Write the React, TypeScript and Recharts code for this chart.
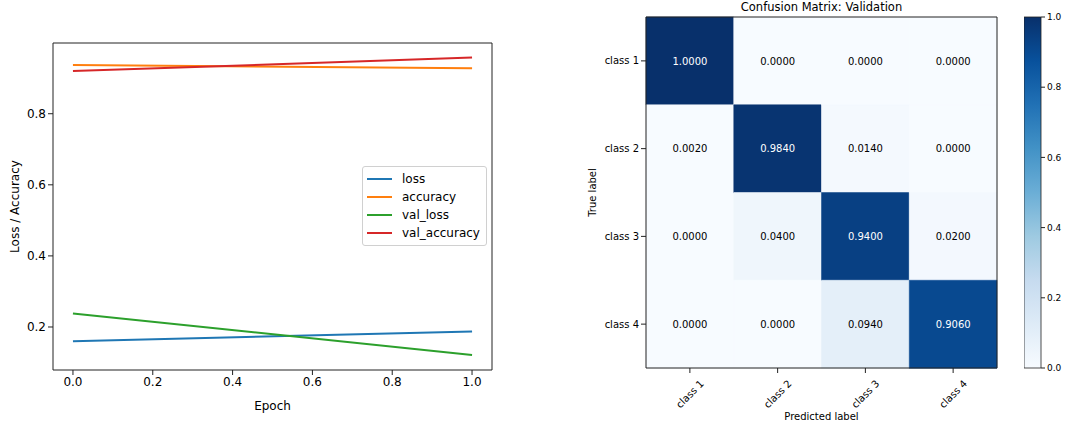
import { LineChart, Line, XAxis, YAxis, BarChart, Bar, Cell, LabelList } from "recharts";

const FONT = '"DejaVu Sans", sans-serif';

// training history
const epochs = [0, 1];
const loss = [0.16, 0.187];
const accuracy = [0.937, 0.928];
const valLoss = [0.238, 0.121];
const valAccuracy = [0.92, 0.958];
const epochTicks = [0, 0.2, 0.4, 0.6, 0.8, 1.0];
const metricTicks = [0.2, 0.4, 0.6, 0.8];

// confusion matrix (validation)
const classNames = ["class 1", "class 2", "class 3", "class 4"];
const confusion = [
  [1.0, 0.0, 0.0, 0.0],
  [0.002, 0.984, 0.014, 0.0],
  [0.0, 0.04, 0.94, 0.02],
  [0.0, 0.0, 0.094, 0.906],
];
const colorbarTicks = [0, 0.2, 0.4, 0.6, 0.8, 1.0];

const series = [
  { key: "loss", color: "#1f77b4" },
  { key: "accuracy", color: "#ff7f0e" },
  { key: "val_loss", color: "#2ca02c" },
  { key: "val_accuracy", color: "#d62728" },
];

const history = epochs.map((e, i) => ({
  epoch: e,
  loss: loss[i],
  accuracy: accuracy[i],
  val_loss: valLoss[i],
  val_accuracy: valAccuracy[i],
}));

const matrixRows = classNames.map((name, i) => {
  const row: any = { name };
  confusion[i].forEach((v, j) => {
    row[`w${j}`] = 1;
    row[`v${j}`] = v;
  });
  return row;
});

// matplotlib "Blues"
const BLUES = ["#f7fbff", "#deebf7", "#c6dbef", "#9ecae1", "#6baed6", "#4292c6", "#2171b5", "#08519c", "#08306b"];
const hex = (c: string) => [1, 3, 5].map((k) => parseInt(c.slice(k, k + 2), 16));
const blues = (t: number) => {
  const p = Math.max(0, Math.min(1, t)) * (BLUES.length - 1);
  const i = Math.min(Math.floor(p), BLUES.length - 2);
  const f = p - i;
  const a = hex(BLUES[i]);
  const b = hex(BLUES[i + 1]);
  const c = a.map((x, k) => Math.round(x + (b[k] - x) * f));
  return `rgb(${c[0]},${c[1]},${c[2]})`;
};

const HistoryLegend = () => (
  <div
    style={{
      position: "absolute",
      left: 362,
      top: 166,
      border: "1px solid #d0d0d0",
      borderRadius: 3,
      padding: "3px 6px 3px 4px",
      background: "#fff",
      fontFamily: FONT,
      fontSize: 12,
    }}
  >
    {series.map((s) => (
      <div key={s.key} style={{ display: "flex", alignItems: "center", height: 18 }}>
        <div style={{ width: 25, height: 2, background: s.color, marginRight: 10 }} />
        <span style={{ color: "#000" }}>{s.key}</span>
      </div>
    ))}
  </div>
);

const RotTick = ({ x, y, payload }: any) => (
  <text
    x={x}
    y={y + 19}
    transform={`rotate(-45 ${x} ${y + 19})`}
    textAnchor="middle"
    dominantBaseline="central"
    fontSize={10}
    fontFamily={FONT}
    fill="#000"
  >
    {classNames[Math.floor(payload.value)]}
  </text>
);

const CellLabel = ({ x, y, width, height, value }: any) => (
  <text
    x={x + width / 2}
    y={y + height / 2}
    textAnchor="middle"
    dominantBaseline="central"
    fontSize={10}
    fontFamily={FONT}
    fill={value > 0.5 ? "#fff" : "#000"}
  >
    {Number(value).toFixed(4)}
  </text>
);

const tickStyle = { fill: "#000", fontFamily: FONT };

const App = () => {
  return (
    <div style={{ position: "absolute", left: 0, top: 0, width: 1067, height: 423, background: "#fff", fontFamily: FONT }}>
      <div style={{ position: "absolute", left: 0, top: 0 }}>
        <LineChart width={510} height={423} data={history} margin={{ top: 42, right: 17, left: 0, bottom: 13 }}>
          <XAxis
            dataKey="epoch"
            type="number"
            domain={[-0.05, 1.05]}
            allowDataOverflow
            ticks={epochTicks}
            tickFormatter={(v: number) => v.toFixed(1)}
            height={40}
            stroke="#222"
            tickSize={5}
            tick={{ ...tickStyle, fontSize: 12 }}
            label={{ value: "Epoch", position: "insideBottom", offset: 0, fontSize: 12, fill: "#000" }}
          />
          <XAxis xAxisId="top" orientation="top" type="number" domain={[-0.05, 1.05]} tick={false} tickLine={false} height={1} stroke="#222" />
          <YAxis
            type="number"
            domain={[0.079, 0.999]}
            allowDataOverflow
            ticks={metricTicks}
            tickFormatter={(v: number) => v.toFixed(1)}
            width={53}
            stroke="#222"
            tickSize={5}
            tick={{ ...tickStyle, fontSize: 12 }}
            label={{ value: "Loss / Accuracy", angle: -90, position: "insideLeft", offset: 15, fontSize: 12, fill: "#000", style: { textAnchor: "middle" } }}
          />
          <YAxis yAxisId="right" orientation="right" type="number" domain={[0.079, 0.999]} tick={false} tickLine={false} width={1} stroke="#222" />
          {series.map((s) => (
            <Line key={s.key} dataKey={s.key} type="linear" stroke={s.color} strokeWidth={2} dot={false} isAnimationActive={false} />
          ))}
        </LineChart>
        <HistoryLegend />
      </div>

      <div
        style={{ position: "absolute", left: 646, top: 0, width: 351, textAlign: "center", fontSize: 11.5, lineHeight: "15px", color: "#000" }}
      >
        Confusion Matrix: Validation
      </div>

      <div style={{ position: "absolute", left: 560, top: 0 }}>
        <BarChart
          width={450}
          height={423}
          layout="vertical"
          data={matrixRows}
          barCategoryGap={0}
          margin={{ top: 16, right: 12, left: 0, bottom: 0 }}
        >
          <XAxis
            type="number"
            domain={[0, 4]}
            ticks={[0.5, 1.5, 2.5, 3.5]}
            height={55}
            stroke="#222"
            tickSize={5}
            tick={<RotTick />}
            label={{ value: "Predicted label", position: "insideBottom", offset: 3, fontSize: 10, fill: "#000" }}
          />
          <XAxis xAxisId="top" orientation="top" type="number" domain={[0, 4]} tick={false} tickLine={false} height={1} stroke="#222" />
          <YAxis
            type="category"
            dataKey="name"
            width={86}
            stroke="#222"
            tickSize={5}
            tickMargin={2}
            tick={{ ...tickStyle, fontSize: 10 }}
            label={{ value: "True label", angle: -90, position: "insideLeft", offset: 32, fontSize: 10, fill: "#000", style: { textAnchor: "middle" } }}
          />
          <YAxis yAxisId="right" orientation="right" type="category" dataKey="name" tick={false} tickLine={false} width={1} stroke="#222" />
          {classNames.map((_, j) => (
            <Bar key={j} dataKey={`w${j}`} stackId="m" isAnimationActive={false}>
              {matrixRows.map((_r, i) => (
                <Cell key={i} fill={blues(confusion[i][j])} stroke={blues(confusion[i][j])} strokeWidth={0.5} />
              ))}
              <LabelList dataKey={`v${j}`} content={<CellLabel />} />
            </Bar>
          ))}
        </BarChart>
      </div>

      <div style={{ position: "absolute", left: 1024, top: 0 }}>
        <BarChart width={60} height={423} data={[{ name: "cb", v: 1 }]} barCategoryGap={0} margin={{ top: 17, right: 0, left: 0, bottom: 55 }}>
          <defs>
            <linearGradient id="bluesGrad" x1="0" y1="1" x2="0" y2="0">
              {BLUES.map((c, i) => (
                <stop key={i} offset={`${(i / (BLUES.length - 1)) * 100}%`} stopColor={c} />
              ))}
            </linearGradient>
          </defs>
          <XAxis dataKey="name" hide />
          <YAxis
            orientation="right"
            type="number"
            domain={[0, 1]}
            ticks={colorbarTicks}
            tickFormatter={(v: number) => v.toFixed(1)}
            width={43}
            stroke="#222"
            axisLine={false}
            tickSize={4}
            tick={{ ...tickStyle, fontSize: 9 }}
          />
          <Bar dataKey="v" fill="url(#bluesGrad)" stroke="#222" strokeWidth={0.8} isAnimationActive={false} />
        </BarChart>
      </div>
    </div>
  );
};

export default App;
